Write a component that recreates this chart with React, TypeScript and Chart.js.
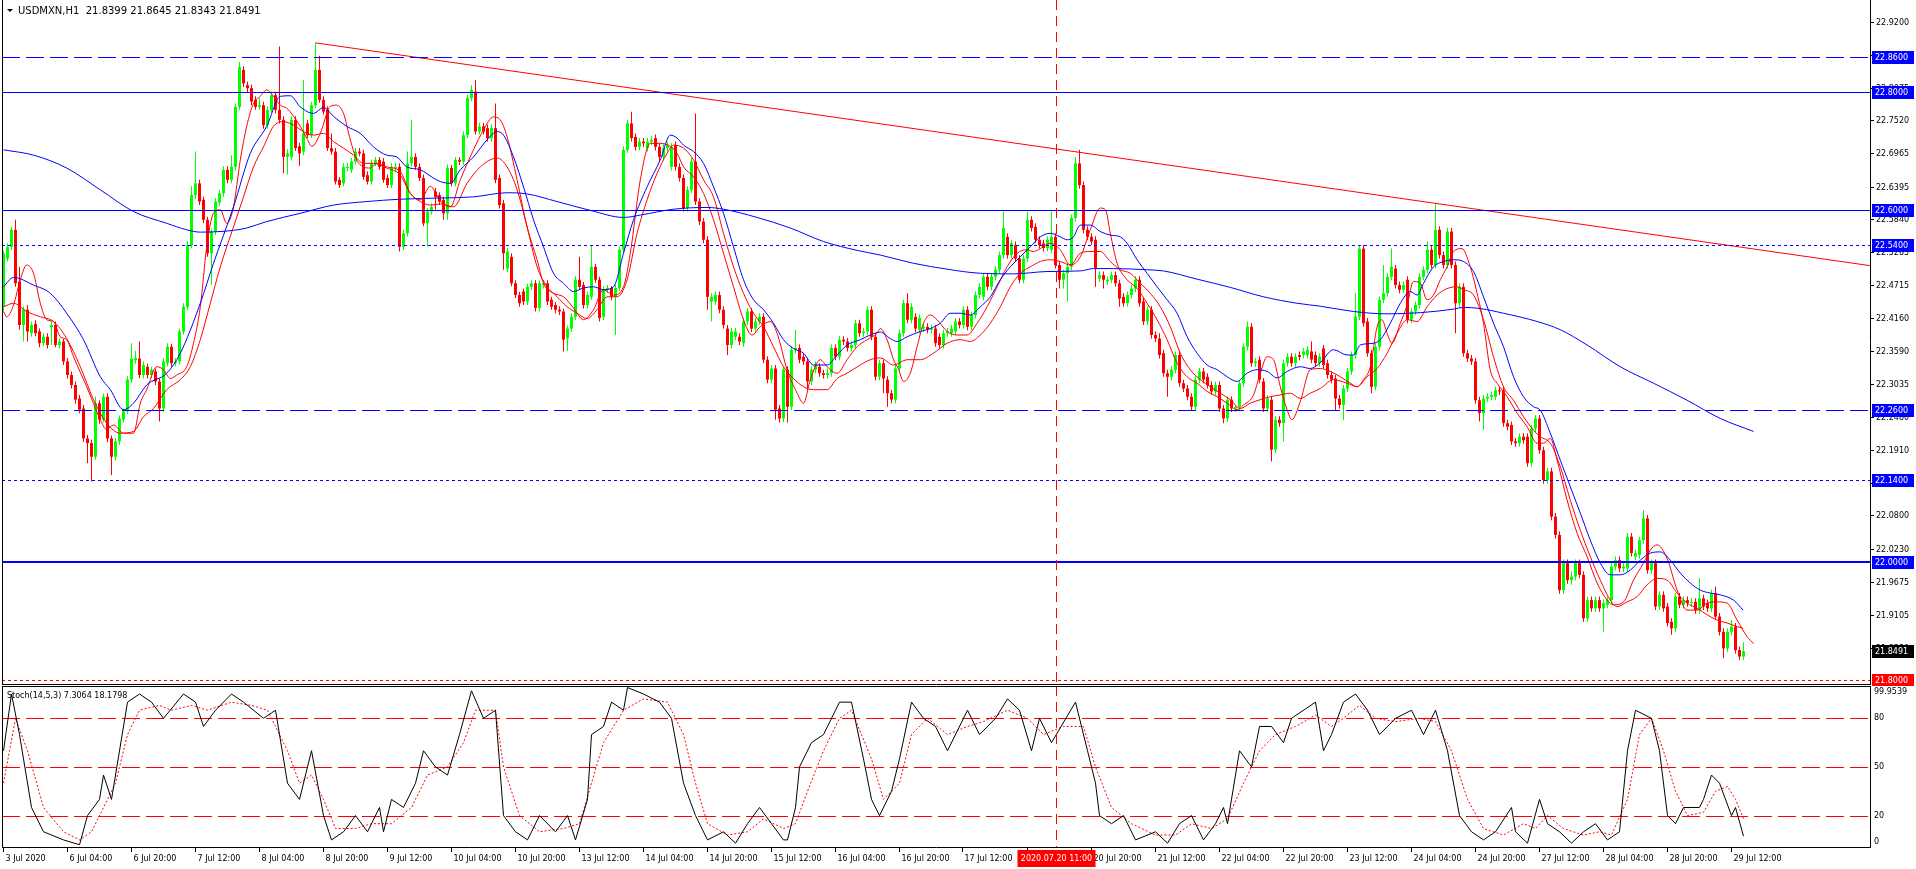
import React, { useEffect, useRef } from "react";
import { Chart, registerables } from "chart.js";
Chart.register(...registerables);

// ---------------- DATA ----------------
const headerText = "USDMXN,H1  21.8399 21.8645 21.8343 21.8491";
const stochHeader = "Stoch(14,5,3) 7.3064 18.1798";

const opens = [
22.435,22.517,22.537,22.566,22.478,22.404,22.430,22.390,22.406,22.393,
22.373,22.384,22.400,22.404,22.370,22.376,22.342,22.319,22.302,22.279,
22.262,22.211,22.203,22.180,22.271,22.243,22.282,22.211,22.180,22.206,
22.243,22.257,22.311,22.344,22.347,22.319,22.333,22.319,22.325,22.308,
22.262,22.339,22.367,22.339,22.342,22.393,22.435,22.540,22.625,22.645,
22.617,22.583,22.526,22.563,22.612,22.628,22.668,22.651,22.673,22.775,
22.838,22.812,22.807,22.787,22.775,22.778,22.744,22.770,22.795,22.770,
22.753,22.690,22.690,22.753,22.708,22.699,22.747,22.727,22.778,22.838,
22.787,22.770,22.705,22.699,22.651,22.645,22.671,22.668,22.682,22.699,
22.696,22.659,22.648,22.679,22.685,22.682,22.654,22.642,22.670,22.673,
22.537,22.560,22.679,22.690,22.673,22.654,22.577,22.597,22.631,22.625,
22.617,22.594,22.671,22.645,22.685,22.682,22.727,22.790,22.801,22.733,
22.742,22.739,22.722,22.739,22.654,22.611,22.500,22.520,22.475,22.455,
22.461,22.444,22.469,22.475,22.433,22.472,22.475,22.447,22.438,22.430,
22.427,22.381,22.398,22.418,22.481,22.472,22.438,22.452,22.503,22.481,
22.418,22.464,22.467,22.452,22.467,22.532,22.702,22.747,22.724,22.707,
22.716,22.705,22.716,22.722,22.707,22.690,22.705,22.673,22.710,22.673,
22.654,22.603,22.634,22.682,22.614,22.580,22.549,22.444,22.444,22.455,
22.430,22.398,22.370,22.384,22.384,22.373,22.410,22.427,22.398,22.410,
22.418,22.345,22.311,22.330,22.262,22.245,22.328,22.265,22.362,22.365,
22.350,22.342,22.308,22.328,22.333,22.322,22.319,22.322,22.365,22.350,
22.379,22.376,22.365,22.370,22.407,22.390,22.393,22.430,22.384,22.316,
22.339,22.311,22.288,22.277,22.330,22.390,22.441,22.413,22.418,22.396,
22.398,22.401,22.396,22.398,22.384,22.370,22.390,22.390,22.393,22.410,
22.404,22.430,22.401,22.421,22.455,22.452,22.486,22.469,22.486,22.498,
22.523,22.554,22.523,22.540,22.517,22.481,22.517,22.583,22.571,22.549,
22.543,22.535,22.532,22.554,22.506,22.481,22.492,22.503,22.586,22.679,
22.642,22.566,22.554,22.549,22.483,22.489,22.478,22.481,22.489,22.475,
22.452,22.441,22.455,22.466,22.481,22.444,22.410,22.430,22.387,22.381,
22.356,22.322,22.316,22.328,22.353,22.305,22.296,22.282,22.265,22.311,
22.325,22.316,22.302,22.291,22.302,22.262,22.245,22.277,22.262,22.265,
22.305,22.367,22.401,22.339,22.345,22.308,22.262,22.277,22.192,22.243,
22.237,22.339,22.350,22.339,22.353,22.353,22.353,22.359,22.353,22.339,
22.364,22.339,22.319,22.313,22.279,22.268,22.296,22.325,22.353,22.418,
22.534,22.410,22.356,22.299,22.367,22.447,22.458,22.486,22.500,22.472,
22.464,22.481,22.413,22.427,22.438,22.486,22.498,22.532,22.506,22.566,
22.523,22.506,22.563,22.506,22.441,22.469,22.356,22.347,22.342,22.276,
22.254,22.279,22.282,22.282,22.293,22.293,22.237,22.234,22.206,22.203,
22.214,22.214,22.169,22.228,22.245,22.191,22.140,22.155,22.078,22.047,
21.953,21.999,21.970,21.976,21.999,21.979,21.905,21.936,21.922,21.936,
21.922,21.928,21.936,21.993,22.004,21.990,21.990,22.044,22.010,22.013,
22.038,22.075,21.987,21.999,21.925,21.945,21.925,21.899,21.888,21.942,
21.928,21.936,21.931,21.933,21.919,21.939,21.931,21.922,21.948,21.908,
21.882,21.854,21.882,21.891,21.851,21.8399
];
const highs = [
22.531,22.543,22.571,22.583,22.503,22.436,22.438,22.410,22.412,22.398,
22.390,22.390,22.410,22.410,22.382,22.380,22.348,22.325,22.308,22.285,
22.268,22.217,22.209,22.282,22.276,22.287,22.288,22.216,22.212,22.250,
22.262,22.317,22.373,22.360,22.376,22.342,22.338,22.333,22.330,22.313,
22.347,22.373,22.372,22.348,22.398,22.441,22.546,22.640,22.699,22.651,
22.622,22.588,22.568,22.620,22.634,22.674,22.674,22.693,22.781,22.852,
22.844,22.818,22.813,22.793,22.790,22.784,22.776,22.801,22.801,22.878,
22.759,22.703,22.759,22.759,22.714,22.821,22.753,22.784,22.884,22.862,
22.793,22.776,22.730,22.705,22.656,22.679,22.680,22.688,22.705,22.705,
22.702,22.665,22.685,22.690,22.690,22.688,22.660,22.679,22.680,22.679,
22.566,22.699,22.753,22.696,22.679,22.660,22.603,22.611,22.637,22.630,
22.622,22.677,22.676,22.690,22.690,22.733,22.796,22.812,22.821,22.748,
22.748,22.745,22.745,22.781,22.660,22.617,22.535,22.526,22.480,22.460,
22.466,22.474,22.480,22.480,22.480,22.480,22.480,22.452,22.443,22.436,
22.432,22.403,22.424,22.487,22.520,22.477,22.461,22.540,22.508,22.486,
22.470,22.472,22.470,22.472,22.538,22.708,22.753,22.767,22.730,22.722,
22.722,22.722,22.725,22.728,22.713,22.711,22.716,22.713,22.716,22.679,
22.660,22.640,22.688,22.764,22.620,22.586,22.555,22.458,22.461,22.461,
22.436,22.404,22.399,22.399,22.390,22.416,22.433,22.433,22.416,22.424,
22.424,22.351,22.336,22.336,22.268,22.334,22.334,22.368,22.396,22.371,
22.356,22.348,22.334,22.342,22.339,22.328,22.330,22.371,22.371,22.385,
22.385,22.382,22.376,22.413,22.413,22.399,22.436,22.436,22.390,22.345,
22.345,22.317,22.294,22.336,22.396,22.447,22.458,22.441,22.424,22.422,
22.407,22.407,22.404,22.404,22.390,22.396,22.399,22.404,22.416,22.416,
22.436,22.436,22.427,22.461,22.475,22.492,22.492,22.492,22.504,22.529,
22.597,22.560,22.549,22.546,22.523,22.523,22.597,22.589,22.577,22.555,
22.549,22.555,22.597,22.560,22.512,22.498,22.509,22.592,22.690,22.702,
22.648,22.572,22.560,22.555,22.495,22.495,22.487,22.495,22.495,22.481,
22.458,22.461,22.472,22.487,22.487,22.450,22.436,22.436,22.393,22.390,
22.362,22.328,22.334,22.359,22.359,22.311,22.302,22.288,22.317,22.331,
22.331,22.322,22.308,22.308,22.308,22.268,22.283,22.283,22.268,22.311,
22.373,22.410,22.407,22.348,22.351,22.314,22.285,22.283,22.249,22.249,
22.345,22.356,22.356,22.356,22.359,22.365,22.368,22.376,22.359,22.356,
22.370,22.345,22.325,22.319,22.285,22.302,22.331,22.359,22.458,22.540,
22.540,22.416,22.362,22.373,22.453,22.506,22.492,22.534,22.506,22.478,
22.478,22.487,22.433,22.444,22.492,22.504,22.546,22.538,22.611,22.572,
22.529,22.569,22.569,22.512,22.475,22.475,22.362,22.353,22.348,22.282,
22.285,22.288,22.291,22.299,22.299,22.299,22.243,22.240,22.212,22.220,
22.220,22.220,22.234,22.251,22.251,22.197,22.161,22.161,22.084,22.053,
22.005,22.005,21.985,22.005,22.005,21.985,21.942,21.942,21.942,21.942,
21.937,21.942,21.999,22.010,22.010,21.999,22.050,22.050,22.022,22.044,
22.089,22.081,22.005,22.005,21.951,21.951,21.931,21.905,21.948,21.948,
21.942,21.942,21.939,21.939,21.973,21.945,21.937,21.954,21.959,21.914,
21.888,21.888,21.902,21.897,21.857,21.8645
];
const lows = [
22.428,22.512,22.532,22.469,22.396,22.376,22.376,22.384,22.385,22.366,
22.368,22.364,22.370,22.366,22.364,22.336,22.313,22.296,22.270,22.254,
22.205,22.169,22.138,22.175,22.236,22.238,22.205,22.149,22.174,22.200,
22.238,22.252,22.306,22.338,22.314,22.313,22.313,22.314,22.302,22.240,
22.256,22.334,22.333,22.334,22.337,22.388,22.430,22.535,22.618,22.608,
22.577,22.520,22.472,22.557,22.606,22.622,22.645,22.645,22.667,22.770,
22.809,22.800,22.778,22.770,22.770,22.738,22.738,22.765,22.764,22.747,
22.662,22.660,22.684,22.700,22.675,22.693,22.722,22.722,22.773,22.782,
22.762,22.700,22.694,22.643,22.637,22.640,22.665,22.663,22.677,22.691,
22.651,22.643,22.643,22.674,22.668,22.646,22.637,22.637,22.664,22.529,
22.532,22.555,22.674,22.668,22.649,22.572,22.537,22.592,22.600,22.608,
22.583,22.583,22.640,22.640,22.676,22.676,22.722,22.785,22.728,22.728,
22.728,22.716,22.716,22.645,22.602,22.498,22.494,22.470,22.450,22.435,
22.438,22.438,22.464,22.427,22.427,22.466,22.438,22.430,22.424,22.421,
22.359,22.360,22.392,22.412,22.464,22.432,22.432,22.447,22.476,22.410,
22.412,22.458,22.446,22.387,22.462,22.527,22.697,22.716,22.701,22.701,
22.707,22.699,22.710,22.701,22.684,22.684,22.699,22.667,22.667,22.648,
22.597,22.597,22.628,22.608,22.574,22.543,22.430,22.410,22.438,22.424,
22.398,22.353,22.364,22.378,22.370,22.367,22.404,22.392,22.392,22.404,
22.339,22.305,22.305,22.243,22.238,22.239,22.238,22.259,22.356,22.339,
22.336,22.294,22.302,22.322,22.316,22.313,22.313,22.316,22.344,22.344,
22.370,22.359,22.359,22.364,22.384,22.384,22.387,22.378,22.310,22.310,
22.288,22.265,22.271,22.271,22.324,22.384,22.407,22.407,22.392,22.390,
22.392,22.390,22.390,22.367,22.364,22.364,22.384,22.384,22.387,22.398,
22.398,22.395,22.395,22.415,22.449,22.446,22.463,22.463,22.480,22.492,
22.517,22.517,22.517,22.511,22.475,22.475,22.511,22.563,22.543,22.534,
22.529,22.529,22.526,22.500,22.466,22.466,22.444,22.497,22.580,22.636,
22.560,22.548,22.540,22.469,22.477,22.466,22.472,22.475,22.469,22.435,
22.435,22.435,22.449,22.460,22.435,22.404,22.404,22.381,22.375,22.347,
22.316,22.282,22.310,22.322,22.299,22.290,22.276,22.259,22.259,22.305,
22.305,22.296,22.285,22.285,22.256,22.237,22.239,22.256,22.256,22.259,
22.299,22.361,22.333,22.333,22.305,22.256,22.256,22.172,22.186,22.231,
22.206,22.333,22.333,22.333,22.344,22.347,22.347,22.339,22.333,22.333,
22.330,22.313,22.305,22.259,22.262,22.242,22.290,22.319,22.347,22.412,
22.401,22.350,22.288,22.293,22.361,22.441,22.452,22.480,22.466,22.458,
22.458,22.407,22.407,22.421,22.432,22.480,22.492,22.500,22.500,22.517,
22.500,22.500,22.500,22.390,22.435,22.350,22.341,22.336,22.270,22.240,
22.226,22.273,22.276,22.276,22.285,22.231,22.225,22.200,22.197,22.197,
22.202,22.163,22.163,22.222,22.185,22.134,22.134,22.072,22.041,21.947,
21.947,21.964,21.962,21.970,21.973,21.899,21.899,21.916,21.916,21.916,
21.882,21.922,21.930,21.987,21.984,21.984,21.984,22.010,22.004,22.007,
22.032,21.981,21.981,21.919,21.919,21.916,21.891,21.877,21.882,21.922,
21.922,21.925,21.925,21.913,21.913,21.919,21.916,21.916,21.902,21.876,
21.837,21.848,21.876,21.845,21.834,21.8343
];
const closes = [
22.526,22.537,22.566,22.475,22.404,22.430,22.393,22.404,22.390,22.373,
22.384,22.370,22.404,22.370,22.376,22.342,22.319,22.302,22.277,22.260,
22.211,22.203,22.180,22.271,22.243,22.282,22.211,22.180,22.206,22.245,
22.257,22.311,22.347,22.348,22.319,22.336,22.319,22.328,22.308,22.262,
22.342,22.367,22.339,22.342,22.393,22.435,22.540,22.625,22.645,22.614,
22.583,22.526,22.563,22.614,22.628,22.668,22.651,22.673,22.775,22.843,
22.815,22.807,22.784,22.775,22.778,22.744,22.770,22.795,22.770,22.753,
22.690,22.696,22.753,22.705,22.696,22.730,22.727,22.778,22.838,22.787,
22.767,22.705,22.699,22.648,22.642,22.673,22.673,22.682,22.699,22.696,
22.656,22.648,22.679,22.685,22.673,22.651,22.642,22.673,22.673,22.537,
22.560,22.679,22.690,22.673,22.654,22.577,22.597,22.605,22.622,22.614,
22.594,22.671,22.645,22.685,22.682,22.727,22.790,22.804,22.733,22.742,
22.733,22.722,22.739,22.651,22.608,22.526,22.529,22.475,22.455,22.441,
22.444,22.469,22.475,22.433,22.475,22.475,22.444,22.435,22.430,22.427,
22.379,22.398,22.418,22.481,22.469,22.438,22.455,22.503,22.481,22.416,
22.464,22.467,22.452,22.467,22.532,22.702,22.747,22.722,22.707,22.716,
22.713,22.716,22.719,22.707,22.690,22.705,22.710,22.707,22.673,22.654,
22.603,22.634,22.682,22.614,22.580,22.549,22.452,22.452,22.455,22.430,
22.404,22.370,22.393,22.393,22.376,22.410,22.427,22.398,22.410,22.418,
22.345,22.311,22.330,22.260,22.245,22.328,22.265,22.362,22.365,22.345,
22.342,22.308,22.328,22.336,22.322,22.319,22.322,22.365,22.350,22.379,
22.376,22.365,22.370,22.407,22.390,22.393,22.430,22.384,22.316,22.339,
22.313,22.288,22.277,22.330,22.390,22.441,22.413,22.435,22.398,22.416,
22.401,22.396,22.398,22.373,22.370,22.390,22.393,22.398,22.410,22.404,
22.430,22.401,22.421,22.455,22.469,22.486,22.469,22.486,22.498,22.523,
22.569,22.523,22.543,22.517,22.481,22.517,22.583,22.569,22.549,22.540,
22.535,22.549,22.554,22.506,22.481,22.492,22.503,22.586,22.679,22.642,
22.566,22.554,22.546,22.500,22.489,22.481,22.481,22.489,22.475,22.449,
22.441,22.455,22.466,22.481,22.441,22.410,22.430,22.387,22.381,22.353,
22.322,22.316,22.328,22.353,22.305,22.296,22.282,22.265,22.311,22.325,
22.311,22.302,22.291,22.302,22.262,22.245,22.277,22.262,22.265,22.305,
22.367,22.401,22.339,22.342,22.311,22.262,22.279,22.192,22.243,22.237,
22.339,22.350,22.339,22.350,22.350,22.359,22.362,22.345,22.339,22.350,
22.336,22.319,22.311,22.279,22.268,22.296,22.325,22.353,22.418,22.534,
22.407,22.356,22.299,22.367,22.447,22.458,22.486,22.503,22.472,22.464,
22.472,22.413,22.427,22.438,22.486,22.498,22.532,22.506,22.566,22.523,
22.506,22.563,22.506,22.441,22.469,22.356,22.347,22.342,22.276,22.254,
22.279,22.282,22.285,22.293,22.291,22.237,22.231,22.206,22.203,22.214,
22.208,22.169,22.228,22.245,22.191,22.140,22.155,22.078,22.047,21.953,
21.999,21.970,21.976,21.999,21.979,21.905,21.936,21.922,21.936,21.922,
21.931,21.936,21.993,22.004,21.990,21.993,22.044,22.016,22.016,22.038,
22.075,21.987,21.999,21.925,21.945,21.922,21.897,21.888,21.942,21.928,
21.936,21.931,21.933,21.919,21.939,21.925,21.922,21.948,21.908,21.882,
21.854,21.882,21.891,21.851,21.840,21.8491
];

// moving averages: [bar index, price]
const maSlowBlue = [
[0,22.702],[7.5,22.693],[15.8,22.671],[24.2,22.634],[32.5,22.597],[40.8,22.577],[45.8,22.566],[49.2,22.562],[57.5,22.565],[60.8,22.569],[65.8,22.580],[74.2,22.594],[82.5,22.608],[90.8,22.614],[99.2,22.618],[109.2,22.620],[117.5,22.622],[125.9,22.629],[130.9,22.627],[138.4,22.614],[146.7,22.599],[155,22.587],[159.2,22.591],[167.5,22.601],[175.9,22.604],[180,22.601],[188.4,22.587],[196.7,22.569],[205,22.546],[213.4,22.531],[219.2,22.523],[227.5,22.509],[235.9,22.499],[244.2,22.492],[252.5,22.491],[260.9,22.495],[269.2,22.496],[272.5,22.500],[277.5,22.500],[285.9,22.498],[290,22.496],[298.4,22.482],[306.7,22.468],[315,22.452],[323.4,22.441],[329.2,22.436],[337.5,22.427],[345.9,22.423],[354.2,22.425],[362.5,22.431],[365,22.434],[369.2,22.432],[375,22.424],[383.4,22.410],[389.2,22.396],[395.9,22.370],[404.2,22.333],[412.5,22.305],[420.9,22.276],[429.2,22.245],[437.5,22.223]
];
const maMidBlue = [
[0,22.469],[2.5,22.485],[7.5,22.472],[11.7,22.458],[15.8,22.424],[20,22.379],[24.2,22.316],[26.7,22.294],[30,22.260],[32.5,22.271],[35.8,22.302],[40.8,22.322],[44.2,22.356],[49.2,22.441],[52.5,22.509],[57.5,22.605],[61.7,22.696],[65.8,22.742],[69.2,22.793],[71.7,22.794],[74.2,22.775],[77.5,22.764],[80,22.774],[82.5,22.759],[85.8,22.742],[89.2,22.730],[92.5,22.707],[95.8,22.693],[98.3,22.690],[100.8,22.673],[104.2,22.668],[107.5,22.654],[109.2,22.648],[111.7,22.645],[114.2,22.668],[117.5,22.690],[120.9,22.719],[123.4,22.733],[125,22.727],[127.5,22.690],[130,22.639],[132.5,22.583],[135,22.537],[137.5,22.492],[140,22.475],[142.5,22.461],[145,22.467],[147.5,22.469],[150,22.464],[152.5,22.469],[155,22.526],[157.5,22.583],[160.9,22.639],[164.2,22.685],[166.7,22.727],[168.4,22.722],[170,22.710],[172.5,22.699],[175,22.679],[177.5,22.639],[180,22.594],[182.5,22.537],[185,22.481],[187.5,22.447],[190,22.430],[192.5,22.407],[195,22.379],[197.5,22.364],[200,22.356],[202.5,22.336],[205.9,22.336],[208.4,22.353],[210.9,22.370],[214.2,22.379],[216.7,22.387],[219.2,22.392],[221.7,22.381],[223.4,22.376],[225.9,22.384],[229.2,22.393],[231.7,22.398],[234.2,22.407],[236.7,22.424],[239.2,22.424],[241.7,22.421],[244.2,22.435],[246.7,22.452],[249.2,22.481],[251.7,22.503],[254.2,22.520],[256.7,22.537],[259.2,22.554],[261.7,22.560],[264.2,22.554],[265.9,22.549],[267.5,22.554],[269.2,22.574],[271.7,22.574],[274.2,22.563],[276.7,22.557],[279.2,22.554],[280.9,22.543],[283.4,22.515],[285.9,22.492],[288.4,22.469],[290.9,22.447],[293.4,22.424],[295.9,22.384],[298.4,22.356],[300.9,22.336],[303.4,22.328],[305.9,22.316],[308.4,22.308],[310.9,22.322],[313.4,22.328],[315.9,22.325],[318.4,22.314],[320.9,22.325],[324.2,22.333],[326.7,22.330],[329.2,22.340],[332.5,22.362],[335.9,22.353],[337.5,22.353],[339.2,22.370],[342.5,22.373],[344.2,22.379],[346.7,22.407],[349.2,22.441],[351.7,22.461],[353.4,22.455],[355,22.475],[357.5,22.503],[360,22.512],[362.5,22.515],[365,22.512],[367.5,22.495],[370,22.452],[372.5,22.407],[375,22.367],[377.5,22.316],[380,22.282],[382.5,22.265],[384.2,22.259],[386.7,22.220],[389.2,22.174],[391.7,22.129],[394.2,22.084],[396.7,22.038],[399.2,21.999],[401.7,21.979],[404.2,21.979],[406.7,21.987],[409.2,22.004],[411.7,22.016],[414.2,22.018],[416.7,22.004],[419.2,21.982],[421.7,21.965],[424.2,21.953],[426.7,21.948],[429.2,21.945],[432.5,21.936],[434.9,21.919]
];
const maFastRed = [
[0,22.427],[0.8,22.418],[2.5,22.438],[4.2,22.481],[5.8,22.506],[7.5,22.492],[9.2,22.441],[10.8,22.413],[12.5,22.410],[14.2,22.384],[15.8,22.379],[17.5,22.350],[20.8,22.299],[22.5,22.271],[24.2,22.243],[25.8,22.226],[27.5,22.234],[30,22.220],[32.5,22.220],[34.2,22.271],[35.8,22.294],[38.3,22.333],[40,22.328],[41.7,22.313],[43.3,22.319],[45.8,22.333],[47.5,22.373],[49.2,22.435],[50.8,22.537],[52.5,22.594],[54.2,22.600],[55.8,22.577],[57.5,22.605],[59.2,22.685],[60.8,22.742],[62.5,22.781],[64.2,22.793],[65.8,22.804],[67.5,22.793],[69.2,22.778],[70.8,22.773],[72.5,22.759],[74.2,22.742],[75.8,22.722],[77.1,22.708],[79.2,22.730],[81.7,22.776],[83.3,22.778],[85,22.764],[86.7,22.719],[88.3,22.685],[90,22.673],[91.7,22.671],[93.3,22.679],[95.8,22.673],[99.2,22.665],[101.7,22.628],[104.2,22.617],[106.7,22.640],[109.2,22.615],[111.7,22.605],[114.2,22.651],[117.5,22.702],[120,22.736],[122.5,22.758],[124.2,22.753],[125.9,22.724],[128.4,22.651],[130.9,22.571],[133.4,22.515],[135,22.475],[137.5,22.458],[140,22.452],[142.5,22.433],[145,22.413],[147.5,22.430],[150,22.464],[152.5,22.455],[155,22.469],[156.7,22.526],[159.2,22.651],[161.7,22.713],[164.2,22.713],[166.7,22.708],[168.4,22.696],[170,22.673],[172.5,22.656],[175,22.628],[177.5,22.583],[180,22.526],[182.5,22.469],[185,22.413],[187.1,22.387],[189.2,22.401],[191.7,22.410],[193.4,22.390],[195.9,22.328],[198.4,22.288],[200,22.271],[201.7,22.311],[204.2,22.345],[205.9,22.333],[208.4,22.322],[210.9,22.345],[213.4,22.367],[215.9,22.379],[218.4,22.390],[219.2,22.398],[220.9,22.379],[222.5,22.345],[223.8,22.328],[225,22.308],[226.7,22.322],[228.4,22.367],[230,22.407],[231.7,22.421],[233.4,22.413],[235.9,22.393],[238.4,22.387],[240.9,22.387],[243.4,22.407],[245.9,22.435],[248.4,22.469],[250.9,22.503],[253.4,22.526],[255.9,22.532],[257.5,22.529],[259.2,22.534],[261.7,22.543],[264.2,22.532],[266.7,22.506],[269.2,22.520],[271.7,22.566],[274.2,22.603],[275.5,22.600],[276.7,22.560],[278.4,22.509],[280.9,22.481],[283.4,22.466],[285.9,22.441],[288.4,22.413],[290.9,22.379],[293.4,22.339],[295.9,22.316],[298.4,22.305],[300.9,22.291],[303.4,22.282],[305.9,22.271],[308.4,22.260],[310,22.268],[312.5,22.285],[314.2,22.322],[315.9,22.350],[317.5,22.345],[319.2,22.299],[320.9,22.260],[322.1,22.243],[324.2,22.274],[326.7,22.328],[329.2,22.330],[331.7,22.325],[334.2,22.316],[336.7,22.305],[338.4,22.299],[340,22.311],[341.7,22.333],[343.4,22.401],[344.6,22.413],[345.9,22.390],[347.1,22.373],[349.2,22.407],[350.9,22.438],[352.5,22.478],[354.2,22.475],[355.9,22.447],[357.5,22.455],[359.2,22.481],[360.9,22.503],[362.5,22.529],[364.6,22.534],[366.7,22.503],[368.4,22.458],[370,22.407],[371.7,22.327],[373.4,22.305],[375.9,22.282],[378.4,22.254],[380.9,22.231],[383.4,22.203],[385,22.203],[386.7,22.211],[388.4,22.174],[390.9,22.106],[393.4,22.050],[395.9,22.010],[398.4,21.965],[400.9,21.936],[402.5,21.928],[405,21.933],[407.5,21.970],[410,21.999],[411.7,22.021],[413.4,22.030],[415.9,22.007],[418.4,21.953],[420.9,21.919],[423.4,21.919],[425.9,21.931],[428.4,21.933],[430.9,21.931],[433.4,21.902],[435.9,21.874],[437.5,21.862]
];
const maMidRed = [
[0,22.435],[2.5,22.441],[5.8,22.427],[9.2,22.418],[12.5,22.410],[15.8,22.381],[19.2,22.333],[22.5,22.277],[25.8,22.237],[29.2,22.220],[32.5,22.223],[35,22.248],[37.5,22.262],[40.8,22.294],[44.2,22.311],[46.7,22.333],[49.2,22.379],[51.7,22.441],[54.2,22.503],[57.5,22.571],[60,22.622],[62.5,22.673],[65,22.707],[67.5,22.742],[70,22.750],[72.5,22.744],[75,22.733],[77.5,22.727],[80,22.730],[82.5,22.716],[85,22.705],[87.5,22.693],[90,22.679],[92.5,22.679],[95.8,22.671],[99.2,22.659],[101.7,22.628],[104.2,22.614],[106.7,22.608],[109.2,22.610],[112.5,22.605],[115.9,22.645],[119.2,22.673],[123.4,22.688],[125.9,22.673],[128.4,22.634],[130.9,22.571],[133.4,22.503],[135.9,22.469],[138.4,22.452],[140.9,22.435],[143.4,22.424],[145.9,22.415],[148.4,22.430],[150.9,22.452],[153.4,22.452],[155.9,22.481],[158.4,22.560],[160.9,22.617],[163.4,22.662],[165.9,22.696],[167.5,22.710],[170,22.705],[172.5,22.685],[175,22.651],[177.5,22.622],[180,22.560],[182.5,22.503],[185,22.458],[187.5,22.424],[190,22.401],[192.5,22.367],[195,22.333],[197.5,22.313],[200,22.299],[202.5,22.294],[205.9,22.294],[208.4,22.313],[210.9,22.322],[214.2,22.336],[216.7,22.345],[219.2,22.348],[222.5,22.336],[225.9,22.345],[229.2,22.345],[232.5,22.356],[235.9,22.373],[239.2,22.379],[241.7,22.376],[244.2,22.387],[246.7,22.407],[249.2,22.435],[251.7,22.469],[254.2,22.492],[256.7,22.503],[259.2,22.512],[261.7,22.515],[264.2,22.512],[266.7,22.506],[269.2,22.526],[271.7,22.529],[274.2,22.529],[276.7,22.512],[279.2,22.498],[281.7,22.492],[284.2,22.475],[286.7,22.458],[289.2,22.435],[291.7,22.401],[294.2,22.356],[296.7,22.328],[299.2,22.311],[301.7,22.299],[304.2,22.288],[306.7,22.277],[309.2,22.262],[311.7,22.271],[314.2,22.277],[316.7,22.282],[319.2,22.285],[321.7,22.288],[324.2,22.279],[326.7,22.288],[329.2,22.296],[332.5,22.311],[335.9,22.305],[338.4,22.299],[340.9,22.316],[343.4,22.330],[345.9,22.356],[348.4,22.390],[350.9,22.413],[353.4,22.410],[355.9,22.435],[358.4,22.455],[360.9,22.466],[363.4,22.469],[365,22.464],[367.5,22.455],[370,22.413],[372.5,22.350],[375,22.299],[377.5,22.276],[380,22.248],[382.5,22.225],[384.2,22.214],[386.7,22.203],[389.2,22.163],[391.7,22.106],[394.2,22.055],[396.7,22.010],[399.2,21.970],[401.7,21.936],[403.4,21.925],[405.9,21.933],[408.4,21.942],[410.9,21.962],[413.4,21.973],[415.9,21.970],[418.4,21.948],[420.9,21.931],[423.4,21.922],[425.9,21.911],[428.4,21.902],[430.9,21.897],[433.4,21.891],[434.9,21.888]
];

// stochastic: [bar index, value]
const stochMain = [
[0,60],[2,95],[4,70],[7,25],[10,10],[15,5],[19,2],[21,20],[24,30],[25,45],[27,30],[31,90],[34,95],[37,90],[40,80],[45,95],[48,90],[50,75],[53,85],[57,95],[60,90],[65,80],[68,85],[71,40],[74,30],[77,60],[80,20],[82,5],[85,10],[88,20],[91,10],[94,25],[95,10],[97,30],[100,25],[103,40],[105,60],[108,50],[111,45],[114,70],[117,97],[120,80],[123,85],[125,20],[128,10],[131,5],[134,20],[138,10],[141,20],[143,5],[146,30],[147,70],[150,75],[152,90],[155,85],[156,99],[160,95],[164,90],[167,80],[170,40],[173,20],[176,5],[180,10],[183,3],[186,15],[189,25],[192,15],[195,5],[196,5],[198,25],[199,50],[202,65],[205,70],[209,90],[212,90],[215,55],[217,30],[219,20],[222,35],[224,55],[227,90],[230,80],[233,75],[236,60],[241,85],[244,70],[248,80],[251,92],[254,85],[257,60],[259,80],[262,65],[268,90],[271,60],[273,40],[274,20],[277,15],[280,20],[283,5],[288,10],[291,3],[294,15],[297,20],[300,5],[303,15],[305,25],[306,15],[309,60],[312,50],[314,75],[317,75],[320,65],[322,80],[328,90],[330,60],[332,70],[335,90],[338,95],[341,85],[344,70],[348,80],[352,85],[355,70],[358,85],[361,60],[364,20],[367,10],[370,5],[373,10],[377,25],[378,10],[381,3],[384,30],[386,15],[389,10],[392,3],[395,10],[398,15],[401,5],[404,10],[406,60],[408,85],[412,80],[414,60],[416,20],[418,15],[420,25],[424,25],[425,30],[427,45],[429,40],[432,20],[433,25],[435,7.3064]
];
const stochSignal = [
[0,40],[3,80],[6,60],[10,25],[15,10],[19,5],[22,10],[25,25],[28,40],[31,70],[34,85],[39,88],[42,85],[47,88],[51,85],[57,90],[62,88],[66,85],[71,60],[74,40],[77,45],[80,30],[83,12],[88,12],[92,15],[97,15],[102,25],[106,45],[111,50],[115,65],[118,85],[123,85],[125,50],[129,20],[134,10],[140,12],[144,15],[147,40],[150,65],[155,85],[160,92],[166,90],[170,70],[173,40],[176,15],[181,8],[186,10],[190,18],[195,12],[198,15],[201,35],[205,60],[209,80],[212,85],[217,55],[220,30],[224,40],[227,70],[231,80],[236,70],[241,75],[245,78],[251,85],[256,80],[260,70],[265,75],[270,75],[273,50],[277,25],[282,15],[288,8],[293,8],[297,15],[302,12],[306,18],[310,40],[314,60],[318,70],[323,75],[328,82],[332,75],[335,80],[339,88],[343,80],[348,78],[354,80],[358,78],[362,60],[366,30],[370,12],[375,8],[380,15],[383,12],[386,20],[390,12],[395,8],[399,10],[402,8],[406,30],[409,70],[412,80],[415,60],[418,35],[421,20],[425,22],[428,35],[431,38],[433,30],[435,18.1798]
];

const priceTicks = [22.92,22.8635,22.8075,22.752,22.6965,22.6395,22.584,22.5285,22.4715,22.416,22.359,22.3035,22.248,22.191,22.1355,22.08,22.023,21.9675,21.9105,21.855];
const levelPrices = [22.86, 22.80, 22.60, 22.54, 22.26, 22.14, 22.00];
const supportPrice = 21.80;
const lastPrice = 21.8491;
const trendLine = [[78, 22.884], [466.6, 22.505]];
const stochTicks = [99.9539, 80, 50, 20, 0];
const stochLevels = [80, 50, 20];
const markerBar = 263;
const markerLabel = "2020.07.20 11:00";
const timeLabels = ["3 Jul 2020","6 Jul 04:00","6 Jul 20:00","7 Jul 12:00","8 Jul 04:00","8 Jul 20:00","9 Jul 12:00","10 Jul 04:00","10 Jul 20:00","13 Jul 12:00","14 Jul 04:00","14 Jul 20:00","15 Jul 12:00","16 Jul 04:00","16 Jul 20:00","17 Jul 12:00","20 Jul 04:00","20 Jul 20:00","21 Jul 12:00","22 Jul 04:00","22 Jul 20:00","23 Jul 12:00","24 Jul 04:00","24 Jul 20:00","27 Jul 12:00","28 Jul 04:00","28 Jul 20:00","29 Jul 12:00"];
const barsPerLabel = 16;

// ---------------- STYLE ----------------
const levelStyles = ["dash", "solid", "solid", "dot", "dash", "dot", "thick"];
const X_MIN = -0.375;
const X_MAX = 466.625;
const P_MIN = 21.7916;
const P_MAX = 22.9569;
const FONT = '8px "DejaVu Sans"';
const HEADER_FONT = '10px "DejaVu Sans"';
const UP = "#00ff00";
const DOWN = "#ff0000";
const BLUE = "#0000ff";
const RED = "#ff0000";
const DASH = [18, 6];
const DOT = [3, 3];

const toXY = (pts: number[][]) => pts.map(([x, y]) => ({ x, y }));

function hLine(ctx: CanvasRenderingContext2D, a: any, y: number, color: string, width: number, dash: number[]) {
  ctx.save();
  ctx.strokeStyle = color;
  ctx.lineWidth = width;
  ctx.setLineDash(dash);
  const py = width % 2 === 1 ? Math.round(y) + 0.5 : Math.round(y);
  ctx.beginPath();
  ctx.moveTo(a.left, py);
  ctx.lineTo(a.right, py);
  ctx.stroke();
  ctx.restore();
}

function vMarker(ctx: CanvasRenderingContext2D, a: any, px: number) {
  ctx.save();
  ctx.strokeStyle = RED;
  ctx.lineWidth = 1;
  ctx.setLineDash([10, 6]);
  const x = Math.round(px) + 0.5;
  ctx.beginPath();
  ctx.moveTo(x, a.top);
  ctx.lineTo(x, a.bottom);
  ctx.stroke();
  ctx.restore();
}

function borders(ctx: CanvasRenderingContext2D, a: any, top: boolean) {
  ctx.save();
  ctx.strokeStyle = "#000";
  ctx.lineWidth = 1;
  ctx.beginPath();
  ctx.moveTo(a.left + 0.5, a.top);
  ctx.lineTo(a.left + 0.5, a.bottom);
  ctx.moveTo(a.right + 0.5, a.top);
  ctx.lineTo(a.right + 0.5, a.bottom);
  ctx.moveTo(a.left, a.bottom - 0.5);
  ctx.lineTo(a.right + 1, a.bottom - 0.5);
  if (top) {
    ctx.moveTo(a.left, a.top + 0.5);
    ctx.lineTo(a.right + 1, a.top + 0.5);
  }
  ctx.stroke();
  ctx.restore();
}

function priceBox(ctx: CanvasRenderingContext2D, a: any, y: number, text: string, bg: string) {
  ctx.save();
  ctx.fillStyle = bg;
  ctx.fillRect(a.right + 2, Math.round(y) - 6, 42, 13);
  ctx.fillStyle = "#fff";
  ctx.font = FONT;
  ctx.textBaseline = "middle";
  ctx.textAlign = "left";
  ctx.fillText(text, a.right + 5, Math.round(y) + 0.5);
  ctx.restore();
}

export default function App() {
  const mainRef = useRef<HTMLCanvasElement>(null);
  const stochRef = useRef<HTMLCanvasElement>(null);

  useEffect(() => {
    document.body.style.margin = "0";
    document.body.style.overflow = "hidden";
    const colors = closes.map((c, i) => (c >= opens[i] ? UP : DOWN));

    const mainPlugin = {
      id: "mainDecor",
      afterDatasetsDraw(chart: any) {
        const { ctx, chartArea: a, scales } = chart;
        const ys = scales.y;
        levelPrices.forEach((p, i) => {
          const st = levelStyles[i];
          const y = ys.getPixelForValue(p);
          if (st === "dash") hLine(ctx, a, y, BLUE, 1, DASH);
          else if (st === "dot") hLine(ctx, a, y, BLUE, 1, DOT);
          else if (st === "thick") hLine(ctx, a, y, BLUE, 2, []);
          else hLine(ctx, a, y, BLUE, 1, []);
        });
        hLine(ctx, a, ys.getPixelForValue(supportPrice), RED, 1, DOT);
        vMarker(ctx, a, scales.x.getPixelForValue(markerBar));
      },
      afterDraw(chart: any) {
        const { ctx, chartArea: a, scales } = chart;
        const ys = scales.y;
        borders(ctx, a, false);
        ctx.save();
        ctx.font = FONT;
        ctx.fillStyle = "#000";
        ctx.strokeStyle = "#000";
        ctx.textBaseline = "middle";
        ctx.textAlign = "left";
        priceTicks.forEach((v) => {
          const y = Math.round(ys.getPixelForValue(v)) + 0.5;
          ctx.beginPath();
          ctx.moveTo(a.right + 1, y);
          ctx.lineTo(a.right + 4, y);
          ctx.stroke();
          ctx.fillText(v.toFixed(4), a.right + 6, y);
        });
        // header
        ctx.beginPath();
        ctx.moveTo(7, 9);
        ctx.lineTo(13, 9);
        ctx.lineTo(10, 12);
        ctx.closePath();
        ctx.fill();
        ctx.font = HEADER_FONT;
        ctx.fillText(headerText, 18, 11);
        ctx.restore();
        levelPrices.forEach((p) => priceBox(ctx, a, ys.getPixelForValue(p), p.toFixed(4), BLUE));
        priceBox(ctx, a, ys.getPixelForValue(lastPrice), lastPrice.toFixed(4), "#000");
        priceBox(ctx, a, ys.getPixelForValue(supportPrice), supportPrice.toFixed(4), RED);
      },
    };

    const lineDs = (label: string, pts: number[][], color: string) => ({
      type: "line" as const,
      label,
      data: toXY(pts),
      borderColor: color,
      borderWidth: 1,
      pointRadius: 0,
      cubicInterpolationMode: "monotone" as const,
      order: 1,
    });

    const main = new Chart(mainRef.current!, {
      type: "bar",
      data: {
        datasets: [
          lineDs("MA slow", maSlowBlue, BLUE),
          lineDs("MA mid", maMidBlue, BLUE),
          lineDs("MA fast red", maFastRed, RED),
          lineDs("MA mid red", maMidRed, RED),
          {
            type: "line",
            label: "trend",
            data: toXY(trendLine),
            borderColor: RED,
            borderWidth: 1,
            pointRadius: 0,
            order: 0,
          } as any,
          {
            type: "bar",
            label: "wick",
            data: lows.map((l, i) => ({ x: i, y: [l, highs[i]] })),
            backgroundColor: colors,
            barThickness: 1,
            grouped: false,
            inflateAmount: 0,
            order: 10,
          } as any,
          {
            type: "bar",
            label: "body",
            data: opens.map((o, i) => ({ x: i, y: [o, closes[i]] })),
            backgroundColor: colors,
            barThickness: 3,
            grouped: false,
            minBarLength: 1,
            inflateAmount: 0,
            order: 9,
          } as any,
        ],
      },
      options: {
        animation: false,
        responsive: false,
        devicePixelRatio: 1,
        layout: { padding: { left: 2, right: 46, top: 0, bottom: 1 } },
        plugins: { legend: { display: false }, tooltip: { enabled: false } },
        events: [],
        scales: {
          x: { type: "linear", min: X_MIN, max: X_MAX, display: false, offset: false },
          y: { type: "linear", min: P_MIN, max: P_MAX, display: false },
        },
      },
      plugins: [mainPlugin],
    });

    const stochPlugin = {
      id: "stochDecor",
      beforeDatasetsDraw(chart: any) {
        const { ctx, chartArea: a, scales } = chart;
        stochLevels.forEach((v) => hLine(ctx, a, scales.y.getPixelForValue(v), RED, 1, DASH));
      },
      afterDatasetsDraw(chart: any) {
        const { ctx, chartArea: a, scales } = chart;
        vMarker(ctx, a, scales.x.getPixelForValue(markerBar));
      },
      afterDraw(chart: any) {
        const { ctx, chartArea: a, scales } = chart;
        const xs = scales.x, ys = scales.y;
        borders(ctx, a, true);
        ctx.save();
        ctx.font = FONT;
        ctx.fillStyle = "#000";
        ctx.strokeStyle = "#000";
        ctx.textBaseline = "middle";
        ctx.textAlign = "left";
        ctx.fillText(stochHeader, 7, 10);
        stochTicks.forEach((v) => {
          const py = Math.min(Math.max(ys.getPixelForValue(v), a.top + 6), a.bottom - 6);
          ctx.fillText(String(v), a.right + 4, py);
        });
        timeLabels.forEach((t, k) => {
          const px = Math.round(xs.getPixelForValue(k * barsPerLabel)) - 0.5;
          ctx.beginPath();
          ctx.moveTo(px, a.bottom);
          ctx.lineTo(px, a.bottom + 4);
          ctx.stroke();
          ctx.fillText(t, px + 2, a.bottom + 11);
        });
        const mx = Math.round(xs.getPixelForValue(markerBar)) + 0.5;
        ctx.fillStyle = RED;
        ctx.fillRect(mx - 39, a.bottom + 2, 78, 17);
        ctx.fillStyle = "#fff";
        ctx.textAlign = "center";
        ctx.fillText(markerLabel, mx, a.bottom + 11);
        ctx.restore();
      },
    };

    const stoch = new Chart(stochRef.current!, {
      type: "line",
      data: {
        datasets: [
          {
            label: "main",
            data: toXY(stochMain),
            borderColor: "#000",
            borderWidth: 1,
            pointRadius: 0,
            tension: 0,
            order: 0,
          },
          {
            label: "signal",
            data: toXY(stochSignal),
            borderColor: RED,
            borderWidth: 1,
            borderDash: [2, 2],
            pointRadius: 0,
            tension: 0,
            order: 1,
          },
        ],
      },
      options: {
        animation: false,
        responsive: false,
        devicePixelRatio: 1,
        layout: { padding: { left: 2, right: 46, top: 0, bottom: 21 } },
        plugins: { legend: { display: false }, tooltip: { enabled: false } },
        events: [],
        scales: {
          x: { type: "linear", min: X_MIN, max: X_MAX, display: false },
          y: { type: "linear", min: 0, max: 99.9539, display: false },
        },
      },
      plugins: [stochPlugin],
    });

    return () => {
      main.destroy();
      stoch.destroy();
    };
  }, []);

  return (
    <div style={{ position: "absolute", left: 0, top: 0, width: 1916, height: 869, background: "#fff", overflow: "hidden" }}>
      <canvas ref={mainRef} width={1916} height={686} style={{ position: "absolute", left: 0, top: 0, width: 1916, height: 686 }} />
      <canvas ref={stochRef} width={1916} height={183} style={{ position: "absolute", left: 0, top: 686, width: 1916, height: 183 }} />
    </div>
  );
}
